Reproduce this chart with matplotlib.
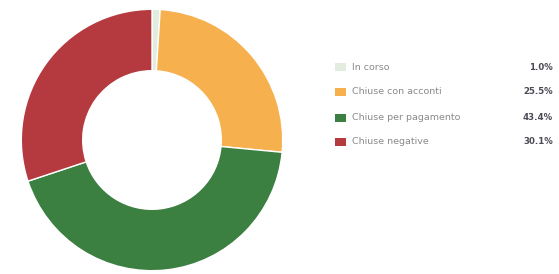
import matplotlib.pyplot as plt
from matplotlib.patches import Rectangle

labels = ['In corso', 'Chiuse con acconti', 'Chiuse per pagamento', 'Chiuse negative']
values = [1.0, 25.5, 43.4, 30.1]
colors = ['#e2ede0', '#f6b04d', '#3b7f41', '#b53a3f']

fig = plt.figure(figsize=(5.59, 2.74), dpi=100)

# donut
ax = fig.add_axes([152/559 - 132/559, 134/274 - 132/274, 264/559, 264/274])
ax.pie(values, colors=colors, startangle=90, counterclock=False,
       wedgeprops=dict(width=62/132, edgecolor='white', linewidth=1.0))
ax.set_xlim(-1.01, 1.01)
ax.set_ylim(-1.01, 1.01)
ax.set_aspect('equal')

# legend drawn by hand
row_y = [67, 92, 118, 142]
for lab, val, col, y in zip(labels, values, colors, row_y):
    yf = 1 - y / 274
    fig.patches.append(Rectangle((335/559, yf - 4/274), 11/559, 8/274,
                                 transform=fig.transFigure, facecolor=col,
                                 edgecolor='none'))
    fig.text(352/559, yf, lab, fontsize=6.8, color='#8a8a8a', va='center', ha='left',
             family='DejaVu Sans')
    fig.text(553/559, yf, f'{val:.1f}%', fontsize=6.2, color='#4a4a55',
             va='center', ha='right', fontweight='semibold', family='DejaVu Sans')

fig.savefig('out.png', dpi=100)
